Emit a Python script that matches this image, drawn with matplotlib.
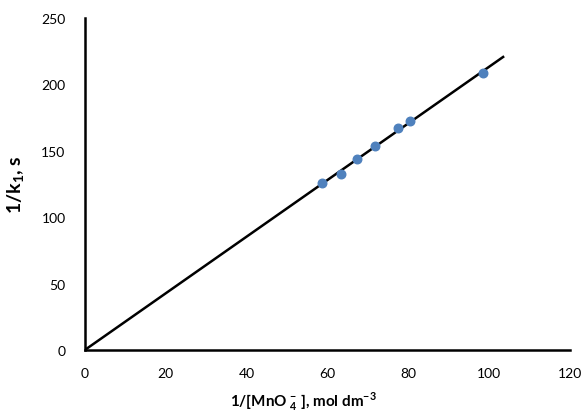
import numpy as np
import matplotlib
matplotlib.use('Agg')
import matplotlib.pyplot as plt

# Datos
inv_mno4 = [58.7, 63.4, 67.3, 71.8, 77.5, 80.4, 98.5]
inv_k1 = [125.5, 132.5, 143.5, 154.0, 167.5, 172.5, 208.5]

plt.rcParams['font.family'] = ['Lato', 'DejaVu Sans']
plt.rcParams['mathtext.fontset'] = 'custom'
plt.rcParams['mathtext.rm'] = 'Lato:bold'
plt.rcParams['mathtext.bf'] = 'Lato:bold'

fig = plt.figure(figsize=(5.82, 4.14), dpi=100)
ax = fig.add_axes([0.146, 0.152, 0.833, 0.802])

# Ajuste lineal
pend, inter = np.polyfit(inv_mno4, inv_k1, 1)
x_linea = np.array([0, 103.5])
ax.plot(x_linea, pend * x_linea + inter, color='black', lw=1.8, zorder=2)
ax.scatter(inv_mno4, inv_k1, s=38, color='#4F81BD', zorder=3)

ax.set_xlim(0, 120)
ax.set_ylim(0, 250)
ax.set_xticks(range(0, 121, 20))
ax.set_yticks(range(0, 251, 50))
ax.tick_params(length=0, labelsize=10, pad=12)
ax.tick_params(axis='y', pad=14)

for lado in ['top', 'right']:
    ax.spines[lado].set_visible(False)
for lado in ['left', 'bottom']:
    ax.spines[lado].set_linewidth(1.8)

ax.set_xlabel(r'1/[MnO $_\mathrm{4}^{\mathrm{-}}$ ], mol dm$^{\mathrm{-3}}$', fontsize=11, fontweight='bold')
ax.xaxis.set_label_coords(0.45, -0.12)
ax.set_ylabel(r'1/k$_\mathrm{1}$, s', fontsize=14, fontweight='bold', labelpad=10)

fig.savefig('out.png', dpi=100)
